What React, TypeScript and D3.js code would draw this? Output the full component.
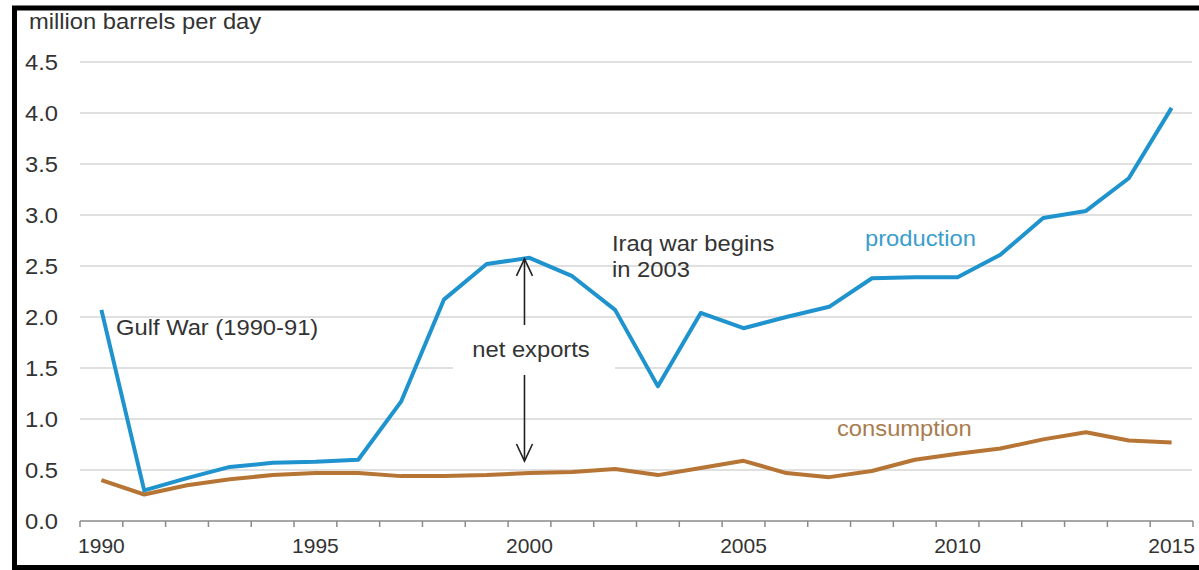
import React, { useEffect } from "react";
import * as d3 from "d3";

const years = [1990,1991,1992,1993,1994,1995,1996,1997,1998,1999,2000,2001,2002,2003,2004,2005,2006,2007,2008,2009,2010,2011,2012,2013,2014,2015];
const production = [2.07,0.30,0.42,0.53,0.57,0.58,0.60,1.17,2.17,2.52,2.58,2.40,2.07,1.32,2.04,1.89,2.00,2.10,2.38,2.39,2.39,2.61,2.97,3.04,3.36,4.05];
const consumption = [0.40,0.26,0.35,0.41,0.45,0.47,0.47,0.44,0.44,0.45,0.47,0.48,0.51,0.45,0.52,0.59,0.47,0.43,0.49,0.60,0.66,0.71,0.80,0.87,0.79,0.77];
const yTicks = [0,0.5,1,1.5,2,2.5,3,3.5,4,4.5];
const xLabelYears = [1990,1995,2000,2005,2010,2015];

const W = 1199, H = 570;
const FONT = "'Liberation Sans', Arial, sans-serif";
const BLUE = "#1f93cd";
const BROWN = "#b67535";

export default function App() {
  useEffect(() => { document.body.style.margin = "0"; }, []);
  const x = d3.scaleBand<number>().domain(years).range([80, 1193]).padding(0);
  const cx = (yr: number) => (x(yr) as number) + x.bandwidth() / 2;
  const y = d3.scaleLinear().domain([0, 4.5]).range([521, 62]);
  const line = d3.line<number>().x((_, i) => cx(years[i])).y((v) => y(v));
  const tickXs = years.map((yr) => x(yr) as number).concat([1193]);
  const sx = 1.08;
  const T = (props: { x: number; y: number; fill?: string; size?: number; anchor?: string; children: React.ReactNode }) => (
    <text transform={`translate(${props.x},${props.y}) scale(${sx},1)`} fill={props.fill || "#333"} fontSize={props.size || 22} textAnchor={props.anchor || "start"} fontFamily={FONT}>{props.children}</text>
  );
  const ax = cx(2000) - 5;
  const upTip = y(production[10]);
  const downTip = 461;
  return (
    <svg width={W} height={H} style={{ position: "absolute", left: 0, top: 0, background: "#fff" }}>
      <rect x={0} y={0} width={W} height={H} fill="#fff" />
      {yTicks.filter((t) => t > 0).map((t) => (
        <line key={t} x1={80} x2={1192} y1={y(t)} y2={y(t)} stroke="#d6d6d6" strokeWidth={1.5} />
      ))}
      <line x1={80} x2={1193} y1={y(0)} y2={y(0)} stroke="#8a8a8a" strokeWidth={1.5} />
      {tickXs.map((tx, i) => (
        <line key={i} x1={tx} x2={tx} y1={y(0)} y2={y(0) + 6} stroke="#8a8a8a" strokeWidth={1.5} />
      ))}
      {yTicks.map((t) => (
        <T key={t} x={25} y={y(t) + 8}>{d3.format(".1f")(t)}</T>
      ))}
      {xLabelYears.map((yr) => (
        <text key={yr} x={cx(yr)} y={553} textAnchor="middle" fontSize={21} fontFamily={FONT} fill="#333">{yr}</text>
      ))}
      <T x={29} y={29}>million barrels per day</T>
      {/* net exports box */}
      <rect x={453} y={332} width={162} height={62} fill="#fff" />
      <path d={line(consumption) || ""} fill="none" stroke={BROWN} strokeWidth={4} strokeLinejoin="round" />
      <path d={line(production) || ""} fill="none" stroke={BLUE} strokeWidth={4} strokeLinejoin="round" />
      {/* arrows */}
      <g stroke="#222" strokeWidth={1.6} fill="none">
        <line x1={ax} x2={ax} y1={upTip + 1} y2={325} />
        <polyline points={`${ax - 8},${upTip + 18} ${ax},${upTip + 1} ${ax + 8},${upTip + 18}`} />
        <line x1={ax} x2={ax} y1={375} y2={downTip} />
        <polyline points={`${ax - 8},${downTip - 17} ${ax},${downTip} ${ax + 8},${downTip - 17}`} />
      </g>
      <T x={531} y={357} anchor="middle">net exports</T>
      <T x={116} y={335}>Gulf War (1990-91)</T>
      <T x={612} y={251}>Iraq war begins</T>
      <T x={612} y={277}>in 2003</T>
      <T x={865} y={246} fill="#3a9dcc">production</T>
      <T x={837} y={436} fill="#a97b4e">consumption</T>
      {/* border */}
      <rect x={14.5} y={8} width={1220} height={559.5} fill="none" stroke="#000" strokeWidth={5} />
    </svg>
  );
}
